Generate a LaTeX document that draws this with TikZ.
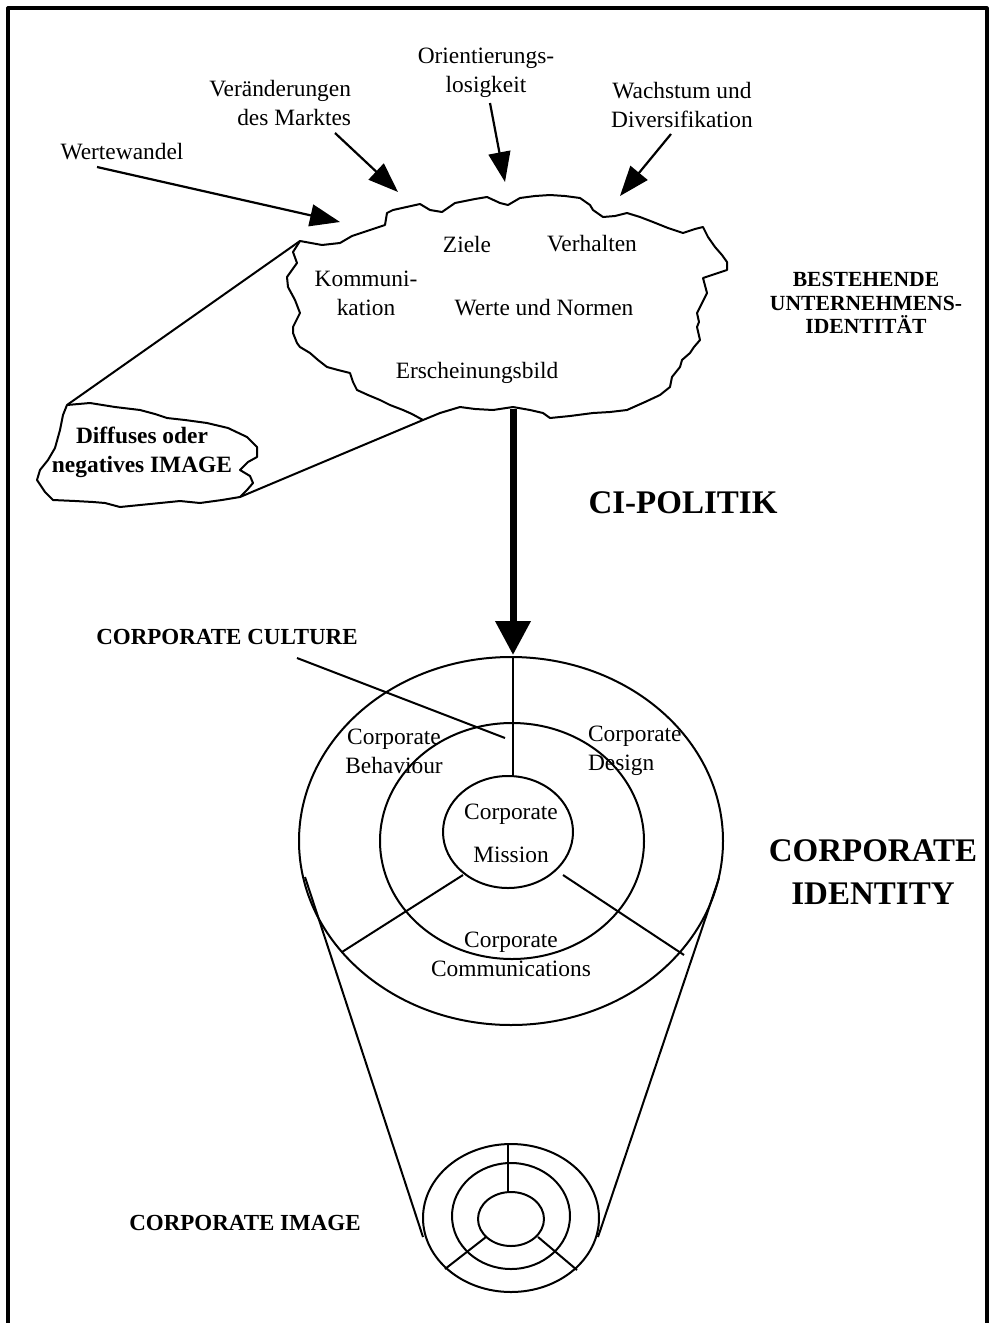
\documentclass[tikz,border=0pt]{standalone}
\usepackage{fontspec}
\setmainfont{Liberation Serif}
\usetikzlibrary{arrows.meta}

\tikzset{
  txt/.style={font=\fontsize{11.7}{14.5}\selectfont, align=center, inner sep=0pt},
  lbl/.style={font=\fontsize{11.5}{11.8}\selectfont\bfseries, align=center, inner sep=0pt},
  gross/.style={font=\fontsize{16.5}{21.5}\selectfont\bfseries, align=center, inner sep=0pt},
  pfeil/.style={-{Triangle[length=15pt,width=11pt]}, line width=1.1pt},
  wolke/.style={line width=1pt},
}

\begin{document}
\begin{tikzpicture}[x=0.5pt, y=-0.5pt, line join=round, line width=1pt]
  \useasboundingbox (0,0) rectangle (991,1323);
  % Rahmen
  \draw[line width=1.6pt, line cap=rect] (8,1323) -- (8,8) -- (987,8) -- (987,1323);

  % Einfluesse
  \node[txt] (ww) at (122,152) {Wertewandel};
  \node[txt, align=right, anchor=east] (vm) at (352,103) {Veränderungen\\des Marktes};
  \node[txt] (ol) at (486,73) {Orientierungs-\\losigkeit};
  \node[txt] (wd) at (682,105) {Wachstum und\\Diversifikation};

  \coordinate (ww1) at (97,167);  \coordinate (ww2) at (340,222);
  \coordinate (vm1) at (335,133); \coordinate (vm2) at (398,192);
  \coordinate (ol1) at (490,103); \coordinate (ol2) at (505,182);
  \coordinate (wd1) at (671,134); \coordinate (wd2) at (620,196);
  \draw[pfeil] (ww1) -- (ww2);
  \draw[pfeil] (vm1) -- (vm2);
  \draw[pfeil] (ol1) -- (ol2);
  \draw[pfeil] (wd1) -- (wd2);

  % bestehende Identitaet
  \draw[wolke] (300,241) -- (322,245) -- (340,243) -- (352,236) -- (370,230) -- (385,225)
    -- (387,213) -- (393,210) -- (420,204) -- (430,210) -- (442,212) -- (455,203)
    -- (475,199) -- (487,197) -- (500,203) -- (508,205) -- (520,198) -- (535,196)
    -- (550,195) -- (565,196) -- (580,198) -- (590,205) -- (593,210) -- (603,217)
    -- (615,216) -- (627,213) -- (640,217) -- (653,222) -- (668,228) -- (683,233)
    -- (695,229) -- (703,227) -- (708,237) -- (715,247) -- (722,255) -- (727,262)
    -- (727,270) -- (715,274) -- (703,278) -- (707,293) -- (702,303) -- (697,313)
    -- (699,322) -- (697,327) -- (700,340) -- (694,347) -- (690,353) -- (682,360)
    -- (680,367) -- (672,377) -- (670,387) -- (660,395) -- (645,402) -- (627,410)
    -- (610,412) -- (593,413) -- (570,416) -- (550,418) -- (543,413) -- (530,410)
    -- (513,407) -- (493,410) -- (475,409) -- (460,407) -- (450,410) -- (440,413)
    -- (423,420) -- (412,414) -- (403,410) -- (390,405) -- (380,400) -- (368,395)
    -- (357,390) -- (353,382) -- (350,373) -- (338,370) -- (327,367) -- (318,360)
    -- (310,353) -- (300,347) -- (297,343) -- (293,333) -- (293,327) -- (300,313)
    -- (295,300) -- (288,287) -- (287,277) -- (292,270) -- (297,263) -- (293,252) -- cycle;
  \node[txt] (ziele) at (467,244) {Ziele};
  \node[txt] (verh) at (592,244) {Verhalten};
  \node[txt] (komm) at (366,293) {Kommuni-\\kation};
  \node[txt] (werte) at (544,308) {Werte und Normen};
  \node[txt] (ersch) at (477,373) {Erscheinungsbild};
  \node[lbl, font=\fontsize{10.8}{11.8}\selectfont\bfseries] (bui) at (866,303) {BESTEHENDE\\UNTERNEHMENS-\\IDENTITÄT};

  % Image
  \draw[wolke, fill=white] (67,405) -- (90,403) -- (115,407) -- (140,410) -- (155,414)
    -- (167,418) -- (185,420) -- (207,423) -- (228,428) -- (247,437) -- (257,447)
    -- (257,457) -- (248,462) -- (240,470) -- (250,476) -- (253,483) -- (247,490)
    -- (240,497) -- (222,500) -- (200,503) -- (180,501) -- (160,503) -- (140,505)
    -- (120,507) -- (105,503) -- (93,502) -- (75,501) -- (53,500) -- (45,492)
    -- (37,480) -- (40,470) -- (48,460) -- (55,448) -- (60,430) -- (63,415) -- cycle;
  \node[lbl, font=\fontsize{11.7}{14.5}\selectfont\bfseries] (img) at (142,452) {Diffuses oder\\negatives IMAGE};
  \coordinate (wl) at (300,241); \coordinate (kl) at (67,405);
  \coordinate (wb) at (423,420); \coordinate (kr) at (240,497);
  \draw (kl) -- (wl);
  \draw (kr) -- (wb);

  % CI-Politik
  \coordinate (wu) at (513,409);
  \coordinate (ci) at (513,655);
  \draw[line width=3.5pt, -{Triangle[length=17pt,width=17pt]}] (wu) -- (ci);
  \node[gross] (pol) at (683,503) {CI-POLITIK};

  % Corporate Identity
  \draw (511,841) ellipse [x radius=212, y radius=184];
  \draw (512,841) ellipse [x radius=132, y radius=118];
  \draw (508,832) ellipse [x radius=65, y radius=56];
  \draw (513,657) -- (513,777);
  \draw (463,875) -- (342,952);
  \draw (563,875) -- (684,955);
  \node[lbl] (cc) at (227,637) {CORPORATE CULTURE};
  \coordinate (cc1) at (297,658); \coordinate (cc2) at (505,738);
  \draw (cc1) -- (cc2);
  \node[txt] (beh) at (394,751) {Corporate\\Behaviour};
  \node[txt, align=left, anchor=west] (des) at (587,751) {Corporate\\Design};
  \node[txt] (mis) at (511,833) {Corporate\\[7pt]Mission};
  \node[txt] (com) at (511,954) {Corporate\\Communications};
  \node[gross] (cid) at (873,872) {CORPORATE\\IDENTITY};

  % Corporate Image
  \coordinate (ol3) at (305,877); \coordinate (ol4) at (423,1237);
  \coordinate (or3) at (719,878); \coordinate (or4) at (598,1237);
  \draw (ol3) -- (ol4);
  \draw (or3) -- (or4);
  \draw (511,1218) ellipse [x radius=88, y radius=74];
  \draw (511,1216) ellipse [x radius=59, y radius=53];
  \draw (511,1219) ellipse [x radius=33, y radius=27];
  \draw (508,1143) -- (508,1192);
  \draw (486,1237) -- (445,1269);
  \draw (538,1237) -- (577,1270);
  \node[lbl] (cim) at (245,1223) {CORPORATE IMAGE};
\end{tikzpicture}
\end{document}
